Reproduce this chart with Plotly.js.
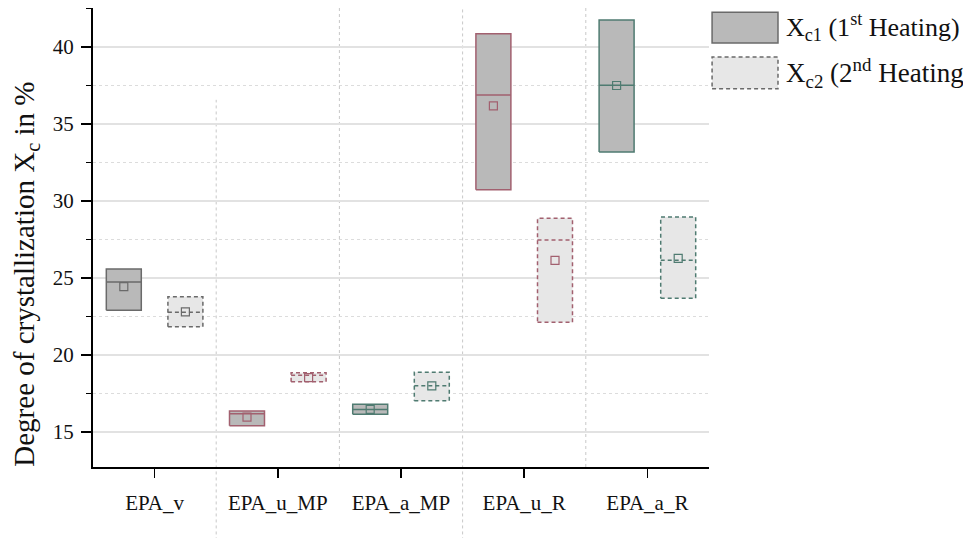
<!DOCTYPE html>
<html>
<head>
<meta charset="utf-8">
<script src="https://cdn.plot.ly/plotly-3.0.1.min.js"></script>
<style>html,body{margin:0;padding:0;background:#fff;}#chart{width:963px;height:538px;}</style>
</head>
<body>
<div id="chart"></div>
<script>
// ---- data ----
const categories = ['EPA_v', 'EPA_u_MP', 'EPA_a_MP', 'EPA_u_R', 'EPA_a_R'];
const catPos = [1, 2, 3, 4, 5];

// 1st heating (X_c1)
const heat1Q1     = [22.90, 15.41, 16.15, 30.73, 33.18];
const heat1Median = [24.74, 16.19, 16.47, 36.88, 37.51];
const heat1Q3     = [25.58, 16.36, 16.80, 40.86, 41.75];
const heat1Mean   = [24.44, 15.97, 16.47, 36.17, 37.50];

// 2nd heating (X_c2)
const heat2Q1     = [21.84, 18.27, 17.03, 22.12, 23.68];
const heat2Median = [22.77, 18.68, 18.00, 27.47, 26.15];
const heat2Q3     = [23.79, 18.85, 18.88, 28.88, 28.96];
const heat2Mean   = [22.80, 18.53, 18.00, 26.15, 26.28];

const yTickVals = [15, 20, 25, 30, 35, 40];

// ---- styles ----
const edgeColors = ['#6a6a6a', '#a2606f', '#4f7b71', '#a2606f', '#4f7b71'];
const series = [
  {name: 'X<sub>c1</sub> (1<sup>st</sup> Heating)', q1: heat1Q1, med: heat1Median, q3: heat1Q3, mean: heat1Mean,
   offset: -0.25, fill: '#b9b9b9', dash: 'solid'},
  {name: 'X<sub>c2</sub> (2<sup>nd</sup> Heating', q1: heat2Q1, med: heat2Median, q3: heat2Q3, mean: heat2Mean,
   offset: 0.25, fill: '#e7e7e7', dash: '4px,3px'}
];
const halfW = 0.142;
const FONT = 'Liberation Serif, Times New Roman, serif';

const traces = [];
series.forEach((s, si) => {
  catPos.forEach((c, i) => {
    const xc = c + s.offset;
    traces.push({
      type: 'scatter', mode: 'lines', showlegend: false, hoverinfo: 'skip',
      x: [xc - halfW, xc + halfW, xc + halfW, xc - halfW, xc - halfW],
      y: [s.q1[i], s.q1[i], s.q3[i], s.q3[i], s.q1[i]],
      fill: 'toself', fillcolor: s.fill,
      line: {color: edgeColors[i], width: 1.5, dash: s.dash}
    });
    traces.push({
      type: 'scatter', mode: 'lines', showlegend: false, hoverinfo: 'skip',
      x: [xc - halfW, xc + halfW], y: [s.med[i], s.med[i]],
      line: {color: edgeColors[i], width: 1.5, dash: s.dash}
    });
  });
  traces.push({
    type: 'scatter', mode: 'markers', showlegend: false,
    x: catPos.map(c => c + s.offset), y: s.mean,
    marker: {symbol: 'square-open', size: 8, color: edgeColors, line: {width: 1.2}}
  });
});

// separators between categories
const seps = [
  {x: 1.5, y0: -0.16, y1: 0.80},
  {x: 2.5, y0: 0, y1: 1},
  {x: 3.5, y0: -0.16, y1: 1},
  {x: 4.5, y0: 0, y1: 1}
];
const shapes = seps.map(s => ({
  type: 'line', xref: 'x', yref: 'paper', x0: s.x, x1: s.x, y0: s.y0, y1: s.y1,
  line: {color: '#c8c8c8', width: 1, dash: '3px,3px'}, layer: 'below'
}));
// legend symbols
shapes.push({type: 'rect', xref: 'paper', yref: 'paper', x0: 1.005, x1: 1.112, y0: 0.924, y1: 0.991,
  fillcolor: series[0].fill, line: {color: '#6a6a6a', width: 1.5}});
shapes.push({type: 'rect', xref: 'paper', yref: 'paper', x0: 1.005, x1: 1.112, y0: 0.824, y1: 0.893,
  fillcolor: series[1].fill, line: {color: '#6a6a6a', width: 1.5, dash: '4px,3px'}});

const annotations = [
  {xref: 'paper', yref: 'paper', x: 1.122, y: 0.958, xanchor: 'left', yanchor: 'middle', showarrow: false,
   text: series[0].name, font: {family: FONT, size: 26, color: '#111'}},
  {xref: 'paper', yref: 'paper', x: 1.122, y: 0.858, xanchor: 'left', yanchor: 'middle', showarrow: false,
   text: series[1].name, font: {family: FONT, size: 27, color: '#111'}},
  {xref: 'paper', yref: 'paper', x: -0.108, y: 0.42, xanchor: 'center', yanchor: 'middle', showarrow: false,
   textangle: -90, text: 'Degree of crystallization X<sub>c</sub> in %', font: {family: FONT, size: 29, color: '#111'}}
];

const layout = {
  width: 963, height: 538,
  margin: {l: 93, r: 254, t: 8, b: 71},
  paper_bgcolor: '#fff', plot_bgcolor: '#fff',
  font: {family: FONT, color: '#111'},
  showlegend: false,
  xaxis: {
    range: [0.5, 5.5], tickvals: catPos, ticktext: categories,
    showgrid: false, zeroline: false,
    showline: true, linecolor: '#000', linewidth: 2,
    ticks: 'outside', ticklen: 9, tickwidth: 1.5, tickcolor: '#000',
    ticklabelstandoff: 7,
    tickfont: {family: FONT, size: 21, color: '#111'}
  },
  yaxis: {
    range: [12.73, 42.53], tickvals: yTickVals,
    showline: true, linecolor: '#000', linewidth: 2,
    ticks: 'outside', ticklen: 10, tickwidth: 1.5, tickcolor: '#000',
    ticklabelstandoff: 3,
    zeroline: false,
    showgrid: true, gridcolor: '#e2e2e2', gridwidth: 1.5,
    tickfont: {family: FONT, size: 21, color: '#111'},
    minor: {dtick: 2.5, tick0: 0, ticks: 'outside', ticklen: 5, tickcolor: '#000', tickwidth: 1.2,
            showgrid: true, gridcolor: '#dcdcdc', gridwidth: 1, griddash: 'dot'}
  },
  shapes: shapes,
  annotations: annotations
};

Plotly.newPlot('chart', traces, layout, {displayModeBar: false, staticPlot: true});
</script>
</body>
</html>
